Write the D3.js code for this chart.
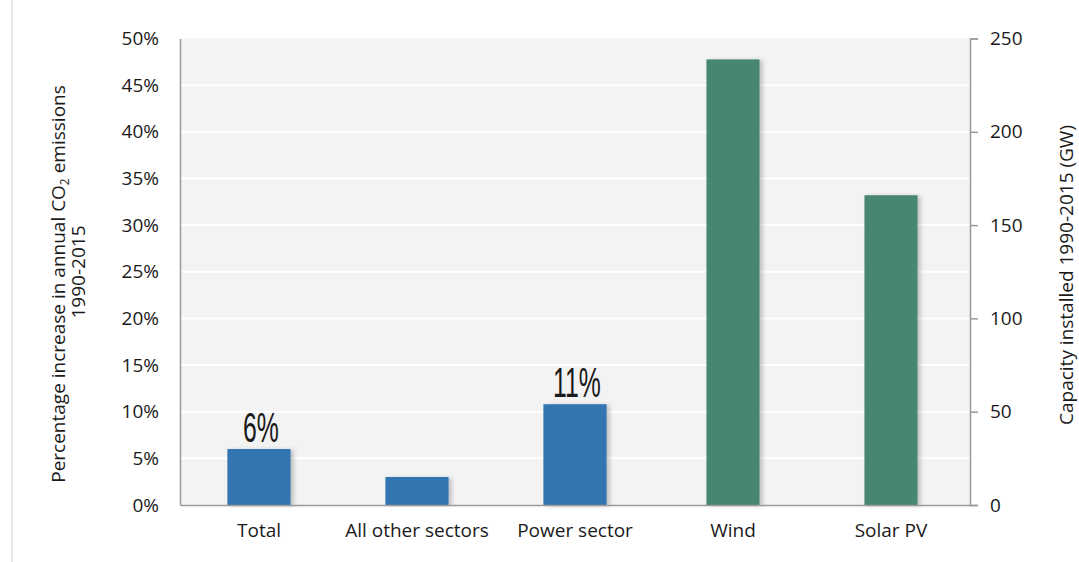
<!DOCTYPE html>
<html><head><meta charset="utf-8">
<script src="https://cdn.jsdelivr.net/npm/d3@7/dist/d3.min.js"></script>
<style>body{margin:0;background:#fff;}svg{display:block;}</style>
</head><body>
<svg id="chart" width="1079" height="562"></svg>
<script>
const categories = ["Total", "All other sectors", "Power sector", "Wind", "Solar PV"];
const emissionsPct = [6.0, 3.0, 10.8, null, null];
const capacityGW = [null, null, null, 238.8, 166];
const leftTicks = [0, 5, 10, 15, 20, 25, 30, 35, 40, 45, 50];
const rightTicks = [0, 50, 100, 150, 200, 250];
const valueLabels = ["6%", null, "11%", null, null];

const svg = d3.select("#chart");
const m = {l: 180, r: 970, t: 38.5, b: 505};
const font = "'Open Sans', 'Noto Sans', sans-serif";
const fs = 19;
const ink = "#1a1a1a";

const x = d3.scaleBand().domain(categories).range([m.l, m.r]).paddingInner(0.6).paddingOuter(0.3);
const yL = d3.scaleLinear().domain([0, 50]).range([m.b, m.t]);
const yR = d3.scaleLinear().domain([0, 250]).range([m.b, m.t]);

// page left rule
svg.append("line").attr("x1", 12).attr("x2", 12).attr("y1", 0).attr("y2", 562).attr("stroke", "#e8e8e8").attr("stroke-width", 2);

// background
svg.append("rect").attr("x", m.l).attr("y", m.t).attr("width", m.r - m.l).attr("height", m.b - m.t).attr("fill", "#f3f3f3");

// grid
svg.append("g").selectAll("line").data(leftTicks.slice(1, -1)).join("line")
  .attr("x1", m.l).attr("x2", m.r).attr("y1", d => yL(d)).attr("y2", d => yL(d))
  .attr("stroke", "#ffffff").attr("stroke-width", 2);

// shadow filter
const defs = svg.append("defs");
const f = defs.append("filter").attr("id", "sh").attr("x", "-20%").attr("y", "-5%").attr("width", "140%").attr("height", "110%");
f.append("feDropShadow").attr("dx", 3).attr("dy", 1).attr("stdDeviation", 2).attr("flood-color", "#000").attr("flood-opacity", 0.22);

const data = categories.map((c, i) => ({c, p: emissionsPct[i], g: capacityGW[i], lab: valueLabels[i]}));
const bw = d => d.p != null ? x.bandwidth() : x.bandwidth() * 0.84;

// bars
svg.append("g").selectAll("rect").data(data).join("rect")
  .attr("x", d => x(d.c) + (x.bandwidth() - bw(d)) / 2).attr("width", bw)
  .attr("y", d => d.p != null ? yL(d.p) : yR(d.g))
  .attr("height", d => d.p != null ? m.b - yL(d.p) : m.b - yR(d.g))
  .attr("fill", d => d.p != null ? "#3375b1" : "#468671")
  .attr("filter", "url(#sh)");

// value labels
svg.append("g").selectAll("text").data(data.filter(d => d.lab)).join("text")
  .attr("transform", d => `translate(${x(d.c) + x.bandwidth() / 2 + 2},${yL(d.p) - 7}) scale(0.8,1.35)`)
  .attr("text-anchor", "middle")
  .attr("font-family", "'Liberation Sans', Arial, sans-serif").attr("font-size", 31)
  .attr("fill", ink).text(d => d.lab);

// axes
const axL = svg.append("g").attr("transform", `translate(${m.l},0)`)
  .call(d3.axisLeft(yL).tickValues(leftTicks).tickFormat(d => d + "%").tickSize(0).tickPadding(21));
axL.select(".domain").attr("stroke", "#9a9a9a").attr("stroke-width", 1.5);

const axR = svg.append("g").attr("transform", `translate(${m.r},0)`)
  .call(d3.axisRight(yR).tickValues(rightTicks).tickSize(8).tickPadding(12));
axR.select(".domain").attr("stroke", "#9a9a9a").attr("stroke-width", 1.5);
axR.selectAll(".tick line").attr("stroke", "#9a9a9a").attr("stroke-width", 1.5);

const axB = svg.append("g").attr("transform", `translate(0,${m.b})`)
  .call(d3.axisBottom(x).tickSize(0).tickPadding(19));
axB.select(".domain").attr("stroke", "#9a9a9a").attr("stroke-width", 1.5);

svg.selectAll(".tick text").attr("font-family", font).attr("font-size", fs).attr("fill", ink);

// left title
const lt = svg.append("text").attr("transform", "translate(65,284) rotate(-90)")
  .attr("text-anchor", "middle").attr("font-family", font).attr("font-size", fs).attr("fill", ink);
lt.append("tspan").text("Percentage increase in annual CO");
lt.append("tspan").attr("font-size", 12).attr("dy", 4).text("2");
lt.append("tspan").attr("dy", -4).text(" emissions");
svg.append("text").attr("transform", "translate(85,272) rotate(-90)")
  .attr("text-anchor", "middle").attr("font-family", font).attr("font-size", fs).attr("fill", ink)
  .text("1990-2015");

// right title
svg.append("text").attr("transform", "translate(1073,275) rotate(-90)")
  .attr("text-anchor", "middle").attr("font-family", font).attr("font-size", fs).attr("fill", ink)
  .text("Capacity installed 1990-2015 (GW)");
</script>
</body></html>
